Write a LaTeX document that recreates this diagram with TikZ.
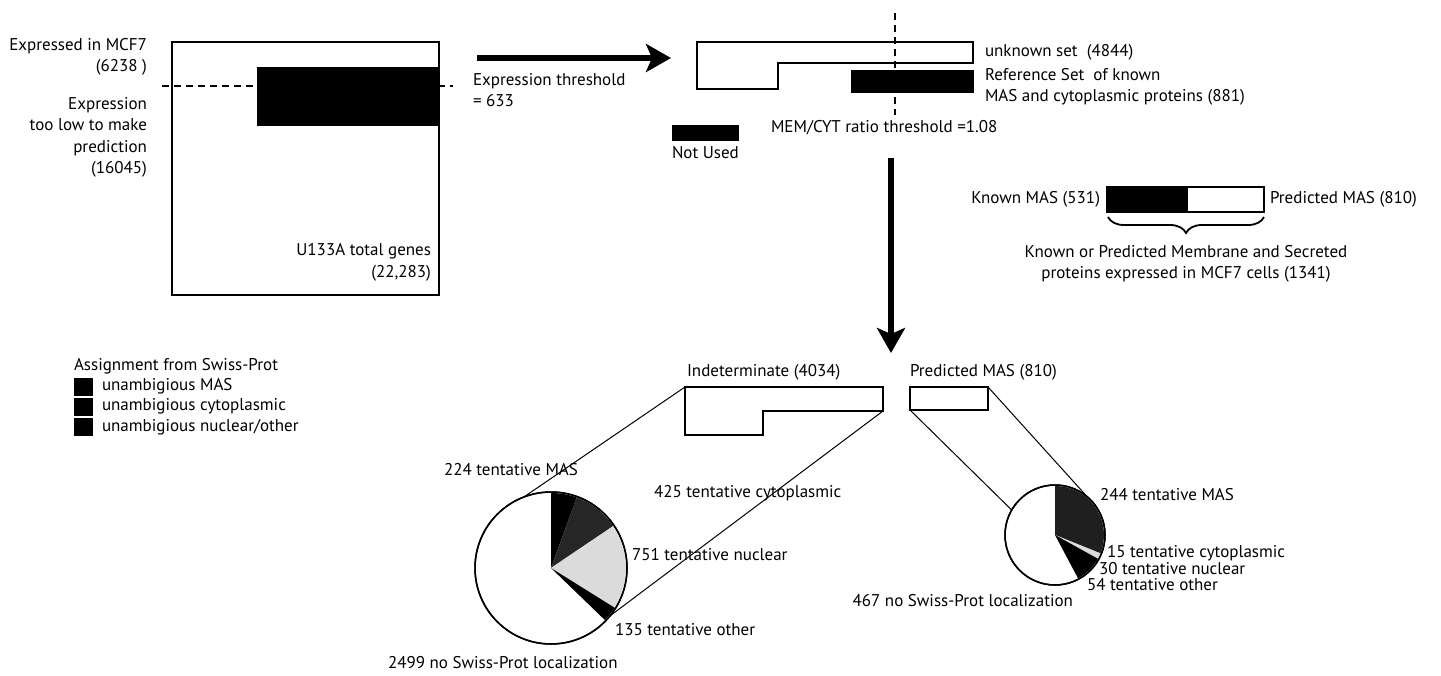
\documentclass[tikz,border=0pt]{standalone}
\usepackage{fontspec}
\setmainfont{PT Sans}
\usetikzlibrary{arrows.meta,decorations.pathreplacing}
\begin{document}
\begin{tikzpicture}[x=1pt,y=1pt,
  lbl/.style={font=\fontsize{17}{21.5}\selectfont, inner sep=0pt, outer sep=0pt},
  box/.style={draw, line width=2.2pt, fill=white, inner sep=0pt, outer sep=0pt},
  blk/.style={fill=black, draw=black, line width=0.5pt, inner sep=0pt, outer sep=0pt},
  dashln/.style={line width=2pt, dash pattern=on 7pt off 5pt},
  bigarrow/.style={line width=6.5pt, -{Stealth[length=25pt,width=28pt,inset=6pt]}},
  zoomln/.style={line width=1pt},
  pie/.style={circle, draw, line width=1.5pt, inner sep=0pt, outer sep=0pt}
]
\fill[white] (0,0) rectangle (1441,-675);
\useasboundingbox (0,0) rectangle (1441,-675);

% ---------- top left: all genes ----------
\node[box, minimum width=267pt, minimum height=253pt] (total) at (305.5,-168.5) {};
\draw[dashln] (162,-86) -- (453,-86);
\node[blk, minimum width=182pt, minimum height=58pt] (lowbar) at (348,-96) {};
\node[lbl, anchor=east, align=right] (expr) at (147,-57) {Expressed in MCF7\\(6238 )};
\node[lbl, anchor=east, align=right] (toolow) at (147,-137.5) {Expression\\too low to make\\prediction\\(16045)};
\node[lbl, anchor=east, align=right] (u133) at (431,-262.5) {U133A total genes\\(22,283)};

% ---------- arrow right ----------
\coordinate (arA) at (477,-58);
\coordinate (arB) at (671,-58);
\draw[bigarrow] (arA) -- (arB);
\node[lbl, anchor=west, align=left] (thr) at (473,-90) {Expression threshold\\= 633};

% ---------- top middle: unknown set ----------
\draw[line width=2pt] (697,-42) -- (973,-42) -- (973,-63) -- (778,-63) -- (778,-89) -- (697,-89) -- cycle;
\draw[dashln] (895,-13) -- (895,-115);
\node[blk, minimum width=122pt, minimum height=22pt] (refset) at (912,-81) {};
\node[lbl, anchor=west] (unk) at (985,-52) {unknown set\ \ (4844)};
\node[lbl, anchor=west, align=left] (reft) at (985,-87) {Reference Set\ \ of known\\MAS and cytoplasmic proteins (881)};
\node[lbl, anchor=west] (memcyt) at (771,-128) {MEM/CYT ratio threshold =1.08};
\node[blk, minimum width=66pt, minimum height=15pt] (nu) at (705.5,-132.5) {};
\node[lbl, anchor=west] (nut) at (672,-153) {Not Used};

% ---------- arrow down ----------
\coordinate (adA) at (891,-158);
\coordinate (adB) at (891,-353);
\draw[bigarrow] (adA) -- (adB);

% ---------- known / predicted MAS bar ----------
\node[blk, minimum width=80pt, minimum height=25pt] (kbar) at (1147,-199.5) {};
\node[box, minimum width=77pt, minimum height=25pt] (pbar) at (1225.5,-199.5) {};
\draw[line width=2pt] (1107,-187) rectangle (1264,-212);
\node[lbl, anchor=east] (kmas) at (1100,-199) {Known MAS (531)};
\node[lbl, anchor=west] (pmast) at (1270,-199) {Predicted MAS (810)};
\coordinate (brL) at (1108,-217);
\coordinate (brR) at (1264,-217);
\draw[line width=1.8pt, decorate, decoration={brace, mirror, amplitude=16pt}] (brL) -- (brR);
\node[lbl, align=center] (kp) at (1186,-264) {Known or Predicted Membrane and Secreted\\proteins expressed in MCF7 cells (1341)};

% ---------- legend ----------
\node[lbl, anchor=west] (legt) at (74,-366) {Assignment from Swiss-Prot};
\node[blk, minimum width=18pt, minimum height=17pt] (lg1) at (83.5,-386.5) {};
\node[blk, minimum width=18pt, minimum height=17pt] (lg2) at (83.5,-406.5) {};
\node[blk, minimum width=18pt, minimum height=17pt] (lg3) at (83.5,-426.5) {};
\node[lbl, anchor=west] (lgt1) at (102,-386) {unambigious MAS};
\node[lbl, anchor=west] (lgt2) at (102,-406) {unambigious cytoplasmic};
\node[lbl, anchor=west] (lgt3) at (102,-427) {unambigious nuclear/other};

% ---------- bottom: indeterminate & predicted ----------
\draw[line width=2pt] (685,-387) -- (883,-387) -- (883,-411) -- (763,-411) -- (763,-435) -- (685,-435) -- cycle;
\coordinate (indTL) at (685,-387);
\coordinate (indR) at (883,-411);
\node[lbl, anchor=west] (indt) at (687,-372) {Indeterminate (4034)};
\node[box, minimum width=78pt, minimum height=23pt] (pmas) at (949,-398.5) {};
\node[lbl, anchor=west] (pmasl) at (910,-372) {Predicted MAS (810)};

% ---------- left pie ----------
\node[pie, minimum size=152pt] (lpie) at (551,-568) {};
\fill[black] (lpie.center) -- ++(90:75pt) arc[start angle=90, end angle=70, radius=75pt] -- cycle;
\fill[black!85] (lpie.center) -- ++(70:75pt) arc[start angle=70, end angle=34, radius=75pt] -- cycle;
\fill[black!14] (lpie.center) -- ++(34:75pt) arc[start angle=34, end angle=-32, radius=75pt] -- cycle;
\fill[black] (lpie.center) -- ++(-32:75pt) arc[start angle=-32, end angle=-44, radius=75pt] -- cycle;
\draw[line width=1.5pt] (lpie.center) circle[radius=76pt];
\draw[zoomln] (indTL) -- (lpie.111);
\draw[zoomln] (indR) -- (lpie.-39);
\node[lbl, anchor=west] (l1) at (444,-470) {224 tentative MAS};
\node[lbl, anchor=west] (l2) at (654,-493) {425 tentative cytoplasmic};
\node[lbl, anchor=west] (l3) at (632,-555) {751 tentative nuclear};
\node[lbl, anchor=west] (l4) at (615,-630) {135 tentative other};
\node[lbl, anchor=west] (l5) at (388,-663) {2499 no Swiss-Prot localization};

% ---------- right pie ----------
\node[pie, minimum size=100pt] (rpie) at (1055,-535) {};
\fill[black!88] (rpie.center) -- ++(90:49pt) arc[start angle=90, end angle=-22, radius=49pt] -- cycle;
\fill[black!14] (rpie.center) -- ++(-22:49pt) arc[start angle=-22, end angle=-29, radius=49pt] -- cycle;
\fill[black] (rpie.center) -- ++(-29:49pt) arc[start angle=-29, end angle=-62, radius=49pt] -- cycle;
\draw[line width=1.5pt] (rpie.center) circle[radius=50pt];
\draw[zoomln] (pmas.south west) -- (rpie.150);
\draw[zoomln] (pmas.north east) -- (rpie.50);
\node[lbl, anchor=west] (r1) at (1100,-495) {244 tentative MAS};
\node[lbl, anchor=west] (r2) at (1107,-553) {15 tentative cytoplasmic};
\node[lbl, anchor=west] (r3) at (1099,-569) {30 tentative nuclear};
\node[lbl, anchor=west] (r4) at (1087,-585) {54 tentative other};
\node[lbl, anchor=east] (r5) at (1073,-601) {467 no Swiss-Prot localization};
\end{tikzpicture}
\end{document}
